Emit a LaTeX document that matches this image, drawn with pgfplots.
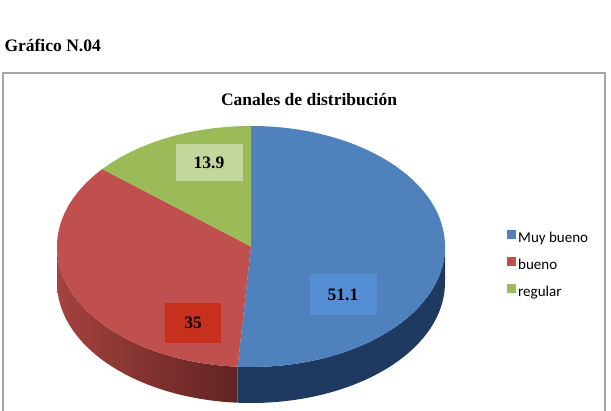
\documentclass[border=0pt]{standalone}
\usepackage{pgfplots}
\pgfplotsset{compat=1.18}
\usepackage{pgfplotstable}
\usepackage{fontspec}
\setmainfont{Liberation Serif}
\newfontfamily\carlito{Carlito}
\definecolor{cblue}{HTML}{4F81BD}
\definecolor{cred}{HTML}{C0504D}
\definecolor{cgreen}{HTML}{9BBB59}
\definecolor{csideblue}{HTML}{1F3A60}
\definecolor{csideredL}{HTML}{A4423F}
\definecolor{csideredR}{HTML}{5C211F}
\definecolor{lblblue}{HTML}{558ED5}
\definecolor{lblred}{HTML}{C8301E}
\definecolor{lblgreen}{HTML}{C3D69B}
\definecolor{frame}{HTML}{A6A6A6}

\pgfplotstableread{
cat value
1 51.1
2 35
3 13.9
}\piedata
\pgfplotstablegetelem{0}{value}\of\piedata \let\vA\pgfplotsretval
\pgfplotstablegetelem{1}{value}\of\piedata \let\vB\pgfplotsretval
\pgfplotstablegetelem{2}{value}\of\piedata \let\vC\pgfplotsretval
\pgfmathsetmacro\aA{90-3.6*\vA}
\pgfmathsetmacro\aB{\aA-3.6*\vB}
\pgfmathsetmacro\aC{\aB-3.6*\vC}

\begin{document}
\begin{tikzpicture}
\useasboundingbox (0,0) rectangle (611pt,411pt);
\begin{axis}[
  at={(0,0)}, anchor=south west,
  scale only axis, width=611pt, height=411pt,
  xmin=0, xmax=611, ymin=0, ymax=411,
  hide axis, clip=true,
  /pgf/number format/assume math mode=true,
  legend style={at={(axis cs:507,181)}, anchor=north west, draw=none, fill=none,
    inner sep=0pt, row sep=10pt,
    font=\carlito\fontsize{15}{15}\selectfont,
    nodes={inner sep=2pt, text height=10pt, text depth=3pt, anchor=west}},
  legend cell align=left,
  legend image code/.code={\fill[#1, draw=none] (0pt,-0.5pt) rectangle (9pt,8.5pt);},
]
% frame
\draw[frame, line width=1.1pt] (axis cs:3,-20) rectangle (axis cs:605,338);
% headings
\node[font=\bfseries\fontsize{17.5}{17.5}\selectfont, anchor=west] at (axis cs:1,366) {Gráfico N.04};
\node[font=\bfseries\fontsize{17.5}{17.5}\selectfont] at (axis cs:309,311) {Canales de distribución};
% sides
\fill[csideblue] (axis cs:251,164.5) ++(\aA:194pt and 120.5pt)
   arc[start angle=\aA, end angle=0, x radius=194pt, y radius=120.5pt]
   -- ++(0,-36pt)
   arc[start angle=0, end angle=\aA, x radius=194pt, y radius=120.5pt] -- cycle;
\shade[left color=csideredL, right color=csideredR] (axis cs:251,164.5) ++(-180:194pt and 120.5pt)
   arc[start angle=-180, end angle=\aA, x radius=194pt, y radius=120.5pt]
   -- ++(0,-36pt)
   arc[start angle=\aA, end angle=-180, x radius=194pt, y radius=120.5pt] -- cycle;
% top faces
\fill[cblue] (axis cs:251,164.5) -- ++(90:194pt and 120.5pt)
   arc[start angle=90, end angle=\aA, x radius=194pt, y radius=120.5pt] -- cycle;
\fill[cred] (axis cs:251,164.5) -- ++(\aA:194pt and 120.5pt)
   arc[start angle=\aA, end angle=\aB, x radius=194pt, y radius=120.5pt] -- cycle;
\fill[cgreen] (axis cs:251,164.5) -- ++(\aB:194pt and 120.5pt)
   arc[start angle=\aB, end angle=\aC, x radius=194pt, y radius=120.5pt] -- cycle;
% labels
\node[fill=lblblue, minimum width=67pt, minimum height=41pt, font=\bfseries\fontsize{17.5}{17.5}\selectfont] at (axis cs:343,116) {\pgfmathprintnumber[fixed,precision=1]{\vA}};
\node[fill=lblred, minimum width=56pt, minimum height=40pt, font=\bfseries\fontsize{17.5}{17.5}\selectfont] at (axis cs:193,88) {\pgfmathprintnumber{\vB}};
\node[fill=lblgreen, minimum width=67pt, minimum height=37pt, font=\bfseries\fontsize{17.5}{17.5}\selectfont] at (axis cs:209,248) {\pgfmathprintnumber[fixed,precision=1]{\vC}};
% legend
\addlegendimage{fill=cblue}
\addlegendimage{fill=cred}
\addlegendimage{fill=cgreen}
\legend{Muy bueno, bueno, regular}
\end{axis}
\end{tikzpicture}
\end{document}
